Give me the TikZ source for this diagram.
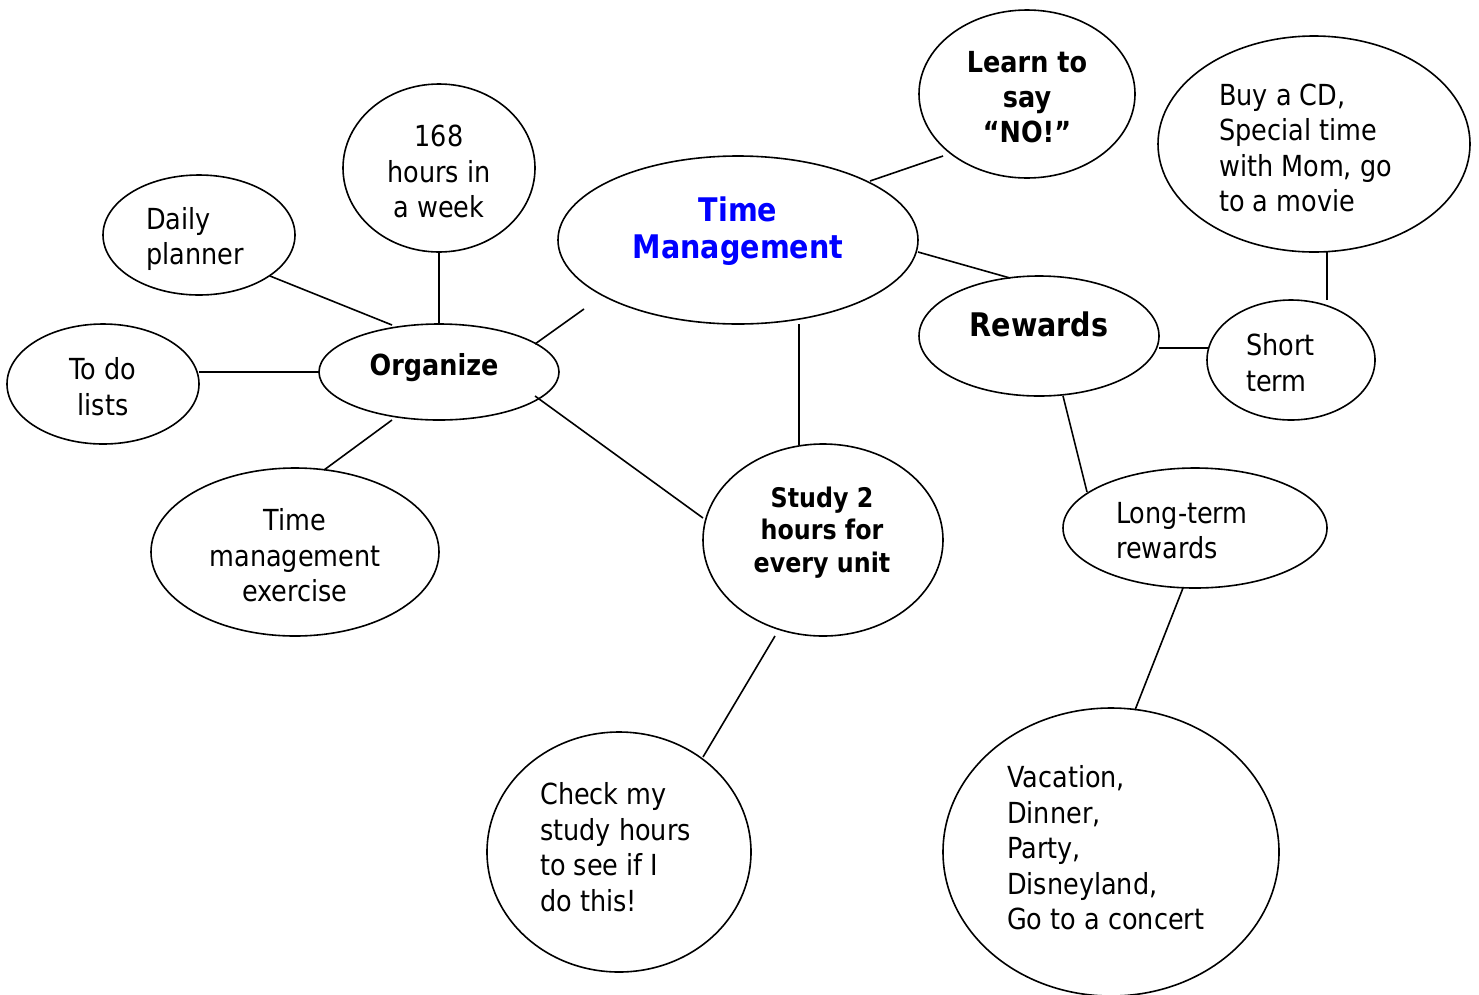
\documentclass[tikz,border=0pt]{standalone}
\usepackage{fontspec}
\setmainfont{DejaVu Sans}[FakeStretch=0.88]
\usetikzlibrary{shapes.geometric}
\definecolor{tmblue}{RGB}{0,0,255}
\begin{document}
\begin{tikzpicture}[x=1pt,y=-1pt,
  bub/.style={ellipse, draw, line width=1.6pt, inner sep=0pt},
  con/.style={line width=1.6pt},
  txt/.style={inner sep=0pt, font=\fontsize{29}{35.5}\selectfont},
  txtb/.style={inner sep=0pt, font=\fontsize{29}{35}\selectfont\bfseries},
  txtc/.style={inner sep=0pt, font=\fontsize{27}{32.5}\selectfont\bfseries},
  txtbig/.style={inner sep=0pt, font=\fontsize{32.5}{37}\selectfont\bfseries}]
\useasboundingbox (0,0) rectangle (1479,994);
% bubbles
\node[bub, minimum width=216, minimum height=168] (learn) at (1027,94) {};
\node[bub, minimum width=312, minimum height=216] (buy) at (1314,144) {};
\node[bub, minimum width=360, minimum height=168] (tm) at (738,240) {};
\node[bub, minimum width=192, minimum height=168] (hours) at (439,168) {};
\node[bub, minimum width=192, minimum height=120] (daily) at (199,235) {};
\node[bub, minimum width=192, minimum height=120] (todo) at (103,384) {};
\node[bub, minimum width=240, minimum height=96] (org) at (439,372) {};
\node[bub, minimum width=240, minimum height=120] (rew) at (1039,336) {};
\node[bub, minimum width=168, minimum height=120] (short) at (1291,360) {};
\node[bub, minimum width=288, minimum height=168] (tme) at (295,552) {};
\node[bub, minimum width=240, minimum height=192] (study) at (823,540) {};
\node[bub, minimum width=264, minimum height=120] (long) at (1195,528) {};
\node[bub, minimum width=264, minimum height=240] (check) at (619,852) {};
\node[bub, minimum width=336, minimum height=288] (vac) at (1111,852) {};
% texts
\node[txtb, align=center] (tlearn) at (1027,97) {Learn to\\say\\“NO!”};
\node[txt, align=left, anchor=west] (tbuy) at (1219,148) {Buy a CD,\\Special time\\with Mom, go\\to a movie};
\node[txtbig, align=center, text=tmblue] (ttm) at (738,231.5) {Time\\Management};
\node[txt, align=center] (thours) at (439,171.5) {168\\hours in\\a week};
\node[txt, align=left, anchor=west] (tdaily) at (146,239) {Daily\\planner};
\node[txt, align=center] (ttodo) at (103,386.5) {To do\\lists};
\node[txtb] (torg) at (434,368) {Organize};
\node[txtbig] (trew) at (1039,324) {Rewards};
\node[txt, align=left, anchor=west] (tshort) at (1246,362.5) {Short\\term};
\node[txt, align=center] (ttme) at (295,555.5) {Time\\management\\exercise};
\node[txtc, align=center] (tstudy) at (822,532.5) {Study 2\\hours for\\every unit};
\node[txt, align=left, anchor=west] (tlong) at (1116,530.5) {Long-term\\rewards};
\node[txt, align=left, anchor=west] (tcheck) at (540,847) {Check my\\study hours\\to see if I\\do this!};
\node[txt, align=left, anchor=west] (tvac) at (1007,848) {Vacation,\\Dinner,\\Party,\\Disneyland,\\Go to a concert};
% connector end points
\coordinate (tm-learn) at (870,181);   \coordinate (learn-tm) at (943,156);
\coordinate (tm-rew) at (918,252);     \coordinate (rew-tm) at (1010,278);
\coordinate (tm-org) at (584,309);     \coordinate (org-tm) at (535,344);
\coordinate (tm-study) at (799,324);   \coordinate (study-tm) at (799,445);
\coordinate (org-study) at (535,396);  \coordinate (study-org) at (703,518);
\coordinate (hours-org) at (439,253);  \coordinate (org-hours) at (439,324);
\coordinate (daily-org) at (270,276);  \coordinate (org-daily) at (392,325);
\coordinate (todo-org) at (199,372);   \coordinate (org-todo) at (319,372);
\coordinate (org-tme) at (392,420);    \coordinate (tme-org) at (324,470);
\coordinate (study-check) at (775,636); \coordinate (check-study) at (703,757);
\coordinate (rew-short) at (1159,348); \coordinate (short-rew) at (1208,348);
\coordinate (short-buy) at (1327,300); \coordinate (buy-short) at (1327,252);
\coordinate (rew-long) at (1063,396);  \coordinate (long-rew) at (1087,492);
\coordinate (long-vac) at (1183,588);  \coordinate (vac-long) at (1135,710);
% connectors
\draw[con] (tm-learn) -- (learn-tm);
\draw[con] (tm-rew) -- (rew-tm);
\draw[con] (tm-org) -- (org-tm);
\draw[con] (tm-study) -- (study-tm);
\draw[con] (org-study) -- (study-org);
\draw[con] (hours-org) -- (org-hours);
\draw[con] (daily-org) -- (org-daily);
\draw[con] (todo-org) -- (org-todo);
\draw[con] (org-tme) -- (tme-org);
\draw[con] (study-check) -- (check-study);
\draw[con] (rew-short) -- (short-rew);
\draw[con] (short-buy) -- (buy-short);
\draw[con] (rew-long) -- (long-rew);
\draw[con] (long-vac) -- (vac-long);
\end{tikzpicture}
\end{document}
